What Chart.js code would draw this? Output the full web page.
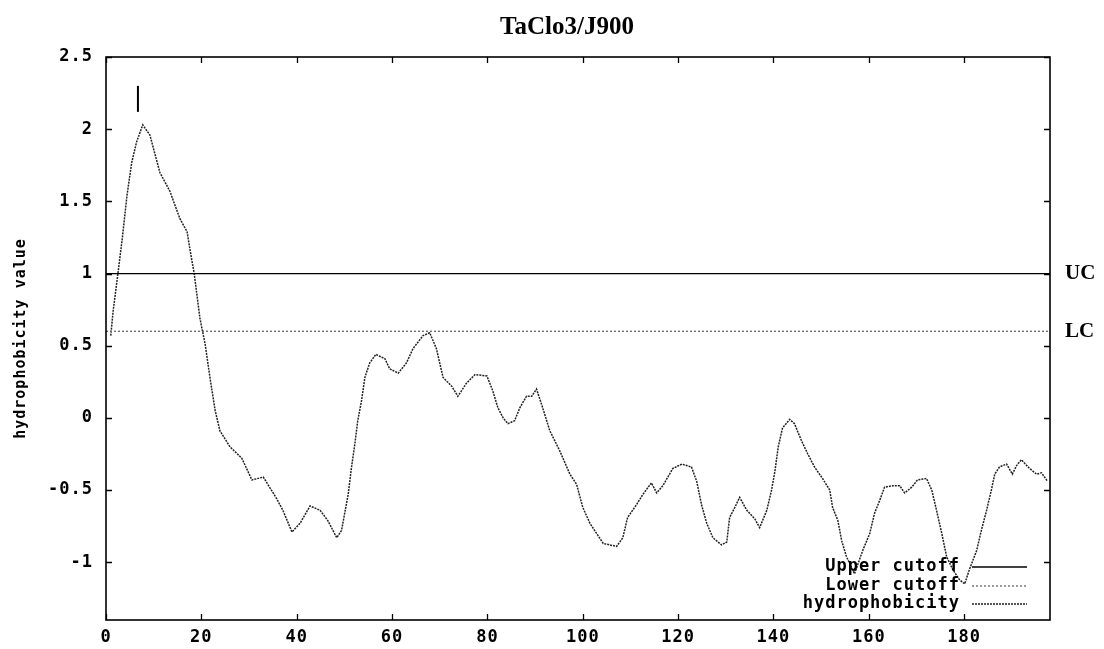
<!DOCTYPE html>
<html>
<head>
<meta charset="utf-8">
<script src="https://cdn.jsdelivr.net/npm/chart.js@4"></script>
<style>
  body { margin: 0; background: #fff; }
  #wrap { width: 1104px; height: 649px; position: relative; }
</style>
</head>
<body>
<div id="wrap"><canvas id="hydroChart"></canvas></div>
<script>
const positions = [
  1, 1.5, 2.5, 3.4, 4.4, 5.4, 6.4, 7.7, 9.2, 11.3, 13.4, 15.5, 17, 17.8, 18.5, 19.7,
  20.8, 21.8, 22.9, 23.9, 26, 28.5, 30.6, 33, 35.8, 37.1, 39, 40.7, 42.8, 44.9, 46.5,
  48.4, 49.4, 50.8, 51.5, 52.2, 52.8, 53.6, 54.3, 55.3, 56.6, 58.5, 59.5, 61.3, 63,
  64.4, 66.5, 67.9, 69.3, 70.7, 72.5, 73.8, 75.6, 77.4, 79.9, 81.1, 82.2, 83.3, 84.3,
  85.7, 86.8, 88.2, 89.3, 90.3, 91.4, 93.1, 95.2, 97.3, 98.7, 100, 101.5, 102.9, 104.3,
  107.1, 108.4, 109.4, 111.3, 112.6, 114.4, 115.5, 116.8, 118.9, 120.8, 122.8, 123.9,
  124.9, 126, 127.3, 129.1, 130.2, 130.8, 131.9, 132.9, 134.4, 136.1, 137.1, 138.6,
  139.6, 140.3, 141, 141.9, 143.4, 144.4, 145.9, 147.2, 148.6, 150.3, 151.8, 152.4,
  153.5, 154.3, 155.3, 156, 157, 158.7, 160.2, 161.2, 162.3, 163.3, 165, 166.5, 167.5,
  169, 170.2, 172.1, 173.2, 174.2, 175.3, 176.3, 177.6, 179, 180.1, 181.1, 182.6, 183.6,
  184.7, 185.7, 186.4, 187.4, 188.9, 190.1, 191, 192, 193.7, 195.2, 196.2, 197.5
];
const hydrophobicity = [
  0.57, 0.74, 1.0, 1.24, 1.54, 1.77, 1.91, 2.03, 1.96, 1.70, 1.57, 1.38, 1.29, 1.13, 1.0, 0.69,
  0.51, 0.28, 0.05, -0.09, -0.2, -0.28, -0.43, -0.41, -0.56, -0.64, -0.79, -0.73, -0.61, -0.64, -0.71,
  -0.83, -0.78, -0.53, -0.34, -0.18, -0.02, 0.12, 0.28, 0.38, 0.44, 0.41, 0.34, 0.31, 0.38,
  0.48, 0.57, 0.59, 0.48, 0.28, 0.22, 0.15, 0.24, 0.30, 0.29, 0.19, 0.07, 0.0, -0.04,
  -0.02, 0.07, 0.15, 0.15, 0.2, 0.09, -0.09, -0.23, -0.39, -0.46, -0.62, -0.73, -0.80, -0.87,
  -0.89, -0.83, -0.69, -0.6, -0.53, -0.45, -0.52, -0.47, -0.35, -0.32, -0.34, -0.44,
  -0.6, -0.73, -0.83, -0.88, -0.86, -0.69, -0.62, -0.55, -0.64, -0.7, -0.76, -0.64,
  -0.5, -0.37, -0.2, -0.07, -0.01, -0.04, -0.16, -0.25, -0.34, -0.42, -0.5, -0.62,
  -0.71, -0.85, -0.96, -1.01, -1.08, -0.92, -0.8, -0.66, -0.57, -0.48, -0.47, -0.47, -0.52,
  -0.48, -0.43, -0.42, -0.5, -0.64, -0.8, -0.96, -1.05, -1.12, -1.15, -1.05, -0.92, -0.78,
  -0.64, -0.5, -0.39, -0.34, -0.32, -0.39, -0.33, -0.29, -0.35, -0.39, -0.38, -0.44
];
const upperCutoff = 1.0;
const lowerCutoff = 0.6;
// small vertical mark above the peak
const markX = [6.7, 6.7];
const markY = [2.12, 2.30];

const xRange = [0, 198];
const yRange = [-1.4, 2.5];
const xTicks = [0, 20, 40, 60, 80, 100, 120, 140, 160, 180];
const yTicks = [-1, -0.5, 0, 0.5, 1, 1.5, 2, 2.5];
const seriesNames = ['Upper cutoff', 'Lower cutoff', 'hydrophobicity'];
const titleText = 'TaClo3/J900';
const yTitle = 'hydrophobicity value';

const tickFont = { family: 'DejaVu Sans Mono', size: 17, weight: 'bold' };

const gnuplotFrame = {
  id: 'gnuplotFrame',
  beforeDraw(chart) {
    // wide pixel-font look for the axis text (scales are drawn after this)
    chart.ctx.letterSpacing = '1px';
  },
  afterDraw(chart) {
    const ctx = chart.ctx;
    const a = chart.chartArea;
    const xs = chart.scales.x, ys = chart.scales.y;
    ctx.save();
    // frame
    ctx.strokeStyle = '#000';
    ctx.lineWidth = 1.6;
    ctx.strokeRect(a.left, a.top, a.right - a.left, a.bottom - a.top);
    // inward ticks on all four sides
    ctx.lineWidth = 1.3;
    ctx.beginPath();
    xTicks.forEach(v => {
      const px = Math.round(xs.getPixelForValue(v)) + 0.5;
      ctx.moveTo(px, a.bottom); ctx.lineTo(px, a.bottom - 6);
      ctx.moveTo(px, a.top); ctx.lineTo(px, a.top + 6);
    });
    yTicks.forEach(v => {
      const py = Math.round(ys.getPixelForValue(v)) + 0.5;
      ctx.moveTo(a.left, py); ctx.lineTo(a.left + 6, py);
      ctx.moveTo(a.right, py); ctx.lineTo(a.right - 6, py);
    });
    ctx.stroke();

    // title
    ctx.letterSpacing = '0px';
    ctx.fillStyle = '#000';
    ctx.font = 'bold 25px "Liberation Serif"';
    ctx.textAlign = 'center';
    ctx.textBaseline = 'middle';
    ctx.fillText(titleText, 567, 28);

    // UC / LC labels to the right of the frame
    ctx.font = 'bold 21px "Liberation Serif"';
    ctx.textAlign = 'left';
    ctx.fillText('UC', a.right + 15, ys.getPixelForValue(upperCutoff));
    ctx.fillText('LC', a.right + 15, ys.getPixelForValue(lowerCutoff));

    // gnuplot style key, bottom right inside the frame
    ctx.font = 'bold 17px "DejaVu Sans Mono"';
    ctx.letterSpacing = '1px';
    ctx.textAlign = 'right';
    const rowY = [a.bottom - 53, a.bottom - 34, a.bottom - 16];
    seriesNames.forEach((name, i) => {
      const ds = chart.data.datasets[i];
      ctx.fillStyle = '#000';
      ctx.fillText(name, a.right - 90, rowY[i]);
      ctx.strokeStyle = ds.borderColor;
      ctx.lineWidth = ds.borderWidth;
      ctx.setLineDash(ds.borderDash || []);
      ctx.beginPath();
      ctx.moveTo(a.right - 78, rowY[i]);
      ctx.lineTo(a.right - 23, rowY[i]);
      ctx.stroke();
    });
    ctx.restore();
  }
};

new Chart(document.getElementById('hydroChart'), {
  type: 'line',
  data: {
    datasets: [
      {
        label: seriesNames[0],
        data: xRange.map(x => ({ x: x, y: upperCutoff })),
        borderColor: '#000',
        borderWidth: 1.3,
        pointRadius: 0
      },
      {
        label: seriesNames[1],
        data: xRange.map(x => ({ x: x, y: lowerCutoff })),
        borderColor: '#666',
        borderWidth: 1.3,
        borderDash: [2, 2],
        pointRadius: 0
      },
      {
        label: seriesNames[2],
        data: positions.map((p, i) => ({ x: p, y: hydrophobicity[i] })),
        borderColor: '#222',
        borderWidth: 1.5,
        borderDash: [2, 1],
        pointRadius: 0,
        tension: 0
      },
      {
        label: 'mark',
        data: markX.map((x, i) => ({ x: x, y: markY[i] })),
        borderColor: '#000',
        borderWidth: 2,
        pointRadius: 0
      }
    ]
  },
  options: {
    responsive: true,
    maintainAspectRatio: false,
    animation: false,
    layout: { padding: { top: 57, right: 54, left: 0, bottom: 0 } },
    plugins: {
      legend: { display: false },
      title: { display: false },
      tooltip: { enabled: false }
    },
    scales: {
      x: {
        type: 'linear',
        min: xRange[0],
        max: xRange[1],
        afterBuildTicks: s => { s.ticks = xTicks.map(v => ({ value: v })); },
        afterFit: s => { s.height = 29; },
        grid: { display: false, drawTicks: false },
        border: { display: false },
        ticks: { font: tickFont, color: '#000', padding: 7, maxRotation: 0, autoSkip: false }
      },
      y: {
        min: yRange[0],
        max: yRange[1],
        afterBuildTicks: s => { s.ticks = yTicks.map(v => ({ value: v })); },
        afterFit: s => { s.width = 106; },
        grid: { display: false, drawTicks: false },
        border: { display: false },
        ticks: { font: tickFont, color: '#000', padding: 13, autoSkip: false, callback: v => String(v) },
        title: {
          display: true,
          text: yTitle,
          color: '#000',
          font: { family: 'DejaVu Sans Mono', size: 15, weight: 'bold' },
          padding: { top: 12, bottom: 0 }
        }
      }
    }
  },
  plugins: [gnuplotFrame]
});
</script>
</body>
</html>
